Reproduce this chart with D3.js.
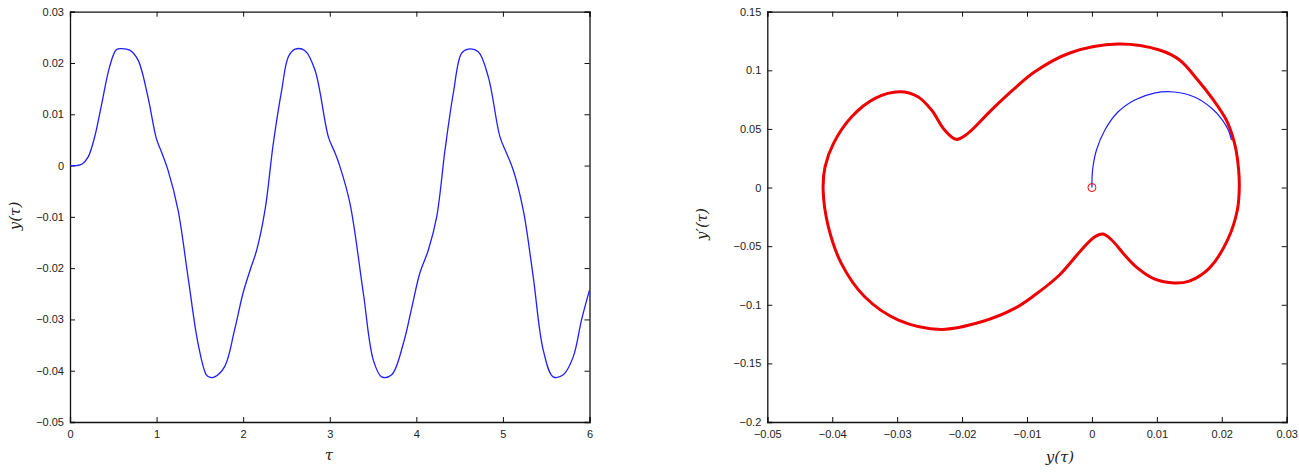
<!DOCTYPE html>
<html>
<head>
<meta charset="utf-8">
<script src="https://cdn.jsdelivr.net/npm/d3@7"></script>
<style>
  body { margin: 0; background: #fff; }
  .tick text { font-family: "Liberation Sans", Arial, sans-serif; font-size: 11px; fill: #222; }
  .lbl { font-family: "DejaVu Serif", "Liberation Serif", serif; font-style: italic; font-size: 15px; fill: #222; }
</style>
</head>
<body>
<svg id="chart" width="1299" height="472"></svg>
<script>
// y(tau) time series
const tauVals = [0, 0.08, 0.14, 0.21, 0.285, 0.36, 0.458, 0.535, 0.6, 0.69, 0.785, 0.9, 0.997, 1.06, 1.132,
  1.248, 1.363, 1.479, 1.575, 1.62, 1.671, 1.786, 1.9, 1.998, 2.08, 2.156, 2.252, 2.348, 2.445, 2.522, 2.6,
  2.714, 2.83, 2.984, 3.06, 3.118, 3.234, 3.388, 3.503, 3.6, 3.715, 3.85, 3.95, 4.04, 4.138, 4.235, 4.331,
  4.427, 4.523, 4.6, 4.715, 4.831, 4.966, 5.04, 5.12, 5.235, 5.35, 5.466, 5.581, 5.697, 5.812, 5.908, 6.0];
const yVals = [0, 0, 0.0003, 0.0017, 0.0056, 0.0115, 0.0193, 0.0226, 0.0228, 0.0225, 0.0206, 0.0134, 0.0053, 0.0025, -0.0009,
  -0.0087, -0.0217, -0.0347, -0.0408, -0.0413, -0.0412, -0.0392, -0.0321, -0.0249, -0.0204, -0.0165, -0.0087, 0.0043, 0.0147, 0.0212, 0.0227,
  0.0224, 0.0186, 0.0056, 0.0025, -0.0002, -0.0074, -0.0249, -0.0379, -0.0412, -0.0408, -0.0347, -0.0275, -0.0210, -0.0165, -0.0100, 0.0030,
  0.0141, 0.0219, 0.0227, 0.0222, 0.0173, 0.0056, 0.0025, -0.0009, -0.0087, -0.0217, -0.0360, -0.0412, -0.0408, -0.0373, -0.0301, -0.0243];

// periodic orbit in the phase plane (red), clockwise from the leftmost point
const orbitY = [-0.0414, -0.0411, -0.0398, -0.0370, -0.0334, -0.0296, -0.0268, -0.0247, -0.0227, -0.0209, -0.0191,
  -0.0155, -0.0119, -0.0088, -0.0034, 0.0040, 0.0104, 0.0135, 0.0163, 0.0187, 0.0207, 0.0216, 0.0222, 0.0226, 0.0227, 0.0224,
  0.0209, 0.0181, 0.0150, 0.0127, 0.0096, 0.0070, 0.0049, 0.0032, 0.0017, 0.0004, -0.0019, -0.0050, -0.0088,
  -0.0119, -0.0170, -0.0232, -0.0298, -0.0350, -0.0386, -0.0406];
const orbitDy = [-0.0021, 0.0178, 0.0377, 0.0604, 0.0761, 0.0817, 0.0775, 0.0661, 0.0491, 0.0411, 0.0462,
  0.0661, 0.0846, 0.0988, 0.1148, 0.1224, 0.1173, 0.1088, 0.0917, 0.0747, 0.0576, 0.0448, 0.0320, 0.0149, 0.0004, -0.0192,
  -0.0447, -0.0687, -0.0798, -0.0815, -0.0780, -0.0686, -0.0567, -0.0456, -0.0397, -0.0422, -0.0550, -0.0746, -0.0917,
  -0.1031, -0.1145, -0.1210, -0.1131, -0.0932, -0.0647, -0.0334];

// transient from the origin (blue)
const transY = [0, 0.0001, 0.0007, 0.0020, 0.0040, 0.0066, 0.0096, 0.0127, 0.0158, 0.0184, 0.0201, 0.0210, 0.0215];
const transDy = [0, 0.0149, 0.0320, 0.0491, 0.0644, 0.0747, 0.0806, 0.0815, 0.0772, 0.0678, 0.0576, 0.0491, 0.0404];

const leftXTicks = [0, 1, 2, 3, 4, 5, 6];
const leftYTicks = [-0.05, -0.04, -0.03, -0.02, -0.01, 0, 0.01, 0.02, 0.03];
const rightXTicks = [-0.05, -0.04, -0.03, -0.02, -0.01, 0, 0.01, 0.02, 0.03];
const rightYTicks = [-0.2, -0.15, -0.1, -0.05, 0, 0.05, 0.1, 0.15];

const svg = d3.select('#chart');
const plotTop = 11.7, plotBottom = 422;

function fmt(v) {
  return d3.format('~g')(+v.toFixed(4)).replace('-', '\u2212');
}

// draws a MATLAB style boxed axes, returns the scales
function makeAxes(x0, x1, xDom, yDom, xTicks, yTicks) {
  const x = d3.scaleLinear().domain(xDom).range([x0, x1]);
  const y = d3.scaleLinear().domain(yDom).range([plotBottom, plotTop]);
  const g = svg.append('g');

  g.append('g').attr('transform', `translate(0,${plotBottom})`)
    .call(d3.axisBottom(x).tickValues(xTicks).tickSize(-5).tickPadding(8).tickFormat(fmt));
  g.append('g').attr('transform', `translate(0,${plotTop})`)
    .call(d3.axisTop(x).tickValues(xTicks).tickSize(-5).tickFormat(''));
  g.append('g').attr('transform', `translate(${x0},0)`)
    .call(d3.axisLeft(y).tickValues(yTicks).tickSize(-5).tickPadding(6).tickFormat(fmt));
  g.append('g').attr('transform', `translate(${x1},0)`)
    .call(d3.axisRight(y).tickValues(yTicks).tickSize(-5).tickFormat(''));

  g.selectAll('.domain').attr('stroke', '#111').attr('stroke-width', 1.3);
  g.selectAll('.tick line').attr('stroke', '#111').attr('stroke-width', 1);
  return { x, y, g };
}

// left panel
const L = makeAxes(70, 589.5, [0, 6], [-0.05, 0.03], leftXTicks, leftYTicks);
const leftLine = d3.line()
  .x(i => L.x(tauVals[i]))
  .y(i => L.y(yVals[i]))
  .curve(d3.curveCatmullRom.alpha(0.5));
svg.append('path')
  .attr('d', leftLine(d3.range(tauVals.length)))
  .attr('fill', 'none').attr('stroke', '#1f1fff').attr('stroke-width', 1.3);

svg.append('text').attr('class', 'lbl').attr('x', 329).attr('y', 460)
  .attr('text-anchor', 'middle').text('τ');
svg.append('text').attr('class', 'lbl')
  .attr('transform', 'translate(20,216) rotate(-90)')
  .attr('text-anchor', 'middle').text('y(τ)');

// right panel
const R = makeAxes(767.3, 1286.7, [-0.05, 0.03], [-0.2, 0.15], rightXTicks, rightYTicks);

const orbitLine = d3.line()
  .x(i => R.x(orbitY[i]))
  .y(i => R.y(orbitDy[i]))
  .curve(d3.curveCatmullRomClosed.alpha(0.5));
svg.append('path')
  .attr('d', orbitLine(d3.range(orbitY.length)))
  .attr('fill', 'none').attr('stroke', '#ee0000').attr('stroke-width', 3);

const transLine = d3.line()
  .x(i => R.x(transY[i]))
  .y(i => R.y(transDy[i]))
  .curve(d3.curveCatmullRom.alpha(0.5));
svg.append('path')
  .attr('d', transLine(d3.range(transY.length)))
  .attr('fill', 'none').attr('stroke', '#1f1fff').attr('stroke-width', 1.2);

svg.append('circle')
  .attr('cx', R.x(transY[0])).attr('cy', R.y(transDy[0])).attr('r', 4)
  .attr('fill', 'none').attr('stroke', '#ee0000').attr('stroke-width', 1);

svg.append('text').attr('class', 'lbl').attr('x', 1060).attr('y', 462)
  .attr('text-anchor', 'middle').text('y(τ)');
svg.append('text').attr('class', 'lbl')
  .attr('transform', 'translate(707,224) rotate(-90)')
  .attr('text-anchor', 'middle').text('y′(τ)');
</script>
</body>
</html>
